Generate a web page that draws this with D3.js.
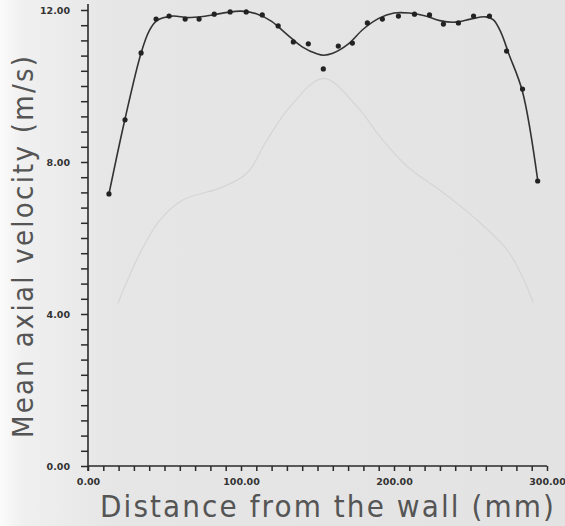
<!DOCTYPE html>
<html>
<head>
<meta charset="utf-8">
<script src="https://cdn.jsdelivr.net/npm/d3@7"></script>
<style>
  body { margin: 0; background: #e4e4e4; }
  svg { display: block; }
</style>
</head>
<body>
<script>
// measured points (distance in mm, velocity in m/s)
var distance = [13.7, 24.2, 34.7, 44.5, 53.0, 63.5, 72.6, 82.5, 92.9, 103.4, 113.9, 124.3, 134.2, 144.0, 153.8,
                163.6, 172.8, 182.6, 192.4, 202.9, 213.4, 223.2, 232.3, 242.1, 252.0, 262.4, 273.6, 284.0, 293.9];
var velocity = [7.16, 9.11, 10.87, 11.76, 11.84, 11.76, 11.76, 11.89, 11.95, 11.95, 11.87, 11.58, 11.16, 11.11, 10.45,
                11.05, 11.13, 11.66, 11.76, 11.84, 11.89, 11.87, 11.63, 11.66, 11.84, 11.84, 10.92, 9.92, 7.50];

// fitted curve
var fitDistance = [13.7, 24, 34.7, 40, 45, 55, 65, 75, 90, 100, 110, 120, 130, 140, 150, 154, 160, 170, 180,
                   190, 200, 210, 220, 230, 240, 250, 260, 265, 270, 275, 284, 294];
var fitVelocity = [7.16, 9.1, 10.87, 11.45, 11.72, 11.84, 11.8, 11.83, 11.93, 11.97, 11.9, 11.7, 11.36, 11.03, 10.84,
                   10.81, 10.86, 11.1, 11.5, 11.78, 11.92, 11.92, 11.85, 11.72, 11.68, 11.76, 11.82, 11.74, 11.4, 10.85, 9.85, 7.5];

// faint second profile showing through
var faintDistance = [19.6, 34, 47, 62, 88, 104, 117, 132, 154, 176, 191, 209, 230, 252, 274, 285, 291];
var faintVelocity = [4.29, 5.6, 6.47, 7.0, 7.34, 7.71, 8.58, 9.45, 10.2, 9.45, 8.66, 7.87, 7.26, 6.55, 5.68, 4.89, 4.29];

var xTicks = d3.range(0, 301, 10);
var yTicks = d3.range(0, 31).map(function(i) { return Math.round(i * 4) / 10; });
var xLabelEvery = 100, yLabelEvery = 4;

var width = 565, height = 526;

var svg = d3.select("body").append("svg")
    .attr("width", width)
    .attr("height", height);

// paper background, lighter towards the left edge
var grad = svg.append("defs").append("linearGradient")
    .attr("id", "paper").attr("x1", "0").attr("x2", "1").attr("y1", "0").attr("y2", "0");
grad.append("stop").attr("offset", "0").attr("stop-color", "#fbfbfb");
grad.append("stop").attr("offset", "0.04").attr("stop-color", "#f0f0f0");
grad.append("stop").attr("offset", "0.2").attr("stop-color", "#e6e6e6");
grad.append("stop").attr("offset", "1").attr("stop-color", "#e3e3e3");
svg.append("rect").attr("width", width).attr("height", height).attr("fill", "url(#paper)");

var x = d3.scaleLinear().domain([0, 300]).range([88, 547]);
var y = d3.scaleLinear().domain([0, 12]).range([466, 10]);

// faint ghost curve
var faint = faintDistance.map(function(d, i) { return [d, faintVelocity[i]]; });
svg.append("path")
    .datum(faint)
    .attr("fill", "none")
    .attr("stroke", "#d5d5d5")
    .attr("stroke-width", 1.2)
    .attr("d", d3.line()
      .x(function(d) { return x(d[0]); })
      .y(function(d) { return y(d[1]); })
      .curve(d3.curveCatmullRom));

// axes
var yAxis = d3.axisLeft(y)
    .tickValues(yTicks)
    .tickSize(7)
    .tickPadding(11)
    .tickFormat(function(d) { return (d % yLabelEvery === 0) ? d.toFixed(2) : ""; });

var xAxis = d3.axisBottom(x)
    .tickValues(xTicks)
    .tickSize(5)
    .tickPadding(7)
    .tickFormat(function(d) { return (d % xLabelEvery === 0) ? d.toFixed(2) : ""; });

var gy = svg.append("g")
    .attr("transform", "translate(" + x(0) + ",0)")
    .call(yAxis);

var gx = svg.append("g")
    .attr("transform", "translate(0," + y(0) + ")")
    .call(xAxis);

[gx, gy].forEach(function(g) {
  g.select(".domain").attr("stroke", "#2a2a2a").attr("stroke-width", 1.6);
  g.selectAll(".tick line").attr("stroke", "#2a2a2a").attr("stroke-width", 1.5);
  g.selectAll(".tick text")
    .attr("fill", "#333")
    .style("font-family", "'DejaVu Sans', sans-serif")
    .style("font-weight", "bold")
    .style("font-size", "9.5px");
});
gy.select(".domain").attr("d", "M0,4V471");
gx.select(".domain").attr("d", "M88,0H547");

// fitted line
var fit = fitDistance.map(function(d, i) { return [d, fitVelocity[i]]; });
svg.append("path")
    .datum(fit)
    .attr("fill", "none")
    .attr("stroke", "#333")
    .attr("stroke-width", 1.6)
    .attr("d", d3.line()
      .x(function(d) { return x(d[0]); })
      .y(function(d) { return y(d[1]); })
      .curve(d3.curveCatmullRom.alpha(0.5)));

// measured points
svg.selectAll(".pt")
    .data(distance)
    .enter().append("circle")
    .attr("class", "pt")
    .attr("cx", function(d) { return x(d); })
    .attr("cy", function(d, i) { return y(velocity[i]); })
    .attr("r", 2.6)
    .attr("fill", "#222");

// titles
svg.append("text")
    .attr("x", 100)
    .attr("y", 517)
    .attr("textLength", 454)
    .attr("lengthAdjust", "spacing")
    .attr("fill", "#555")
    .style("font-family", "'DejaVu Sans Condensed', 'DejaVu Sans', sans-serif")
    .style("font-size", "31px")
    .text("Distance from the wall (mm)");

svg.append("text")
    .attr("transform", "translate(33,438) rotate(-90)")
    .attr("textLength", 382)
    .attr("lengthAdjust", "spacing")
    .attr("fill", "#555")
    .style("font-family", "'DejaVu Sans Condensed', 'DejaVu Sans', sans-serif")
    .style("font-size", "29px")
    .text("Mean axial velocity (m/s)");
</script>
</body>
</html>
